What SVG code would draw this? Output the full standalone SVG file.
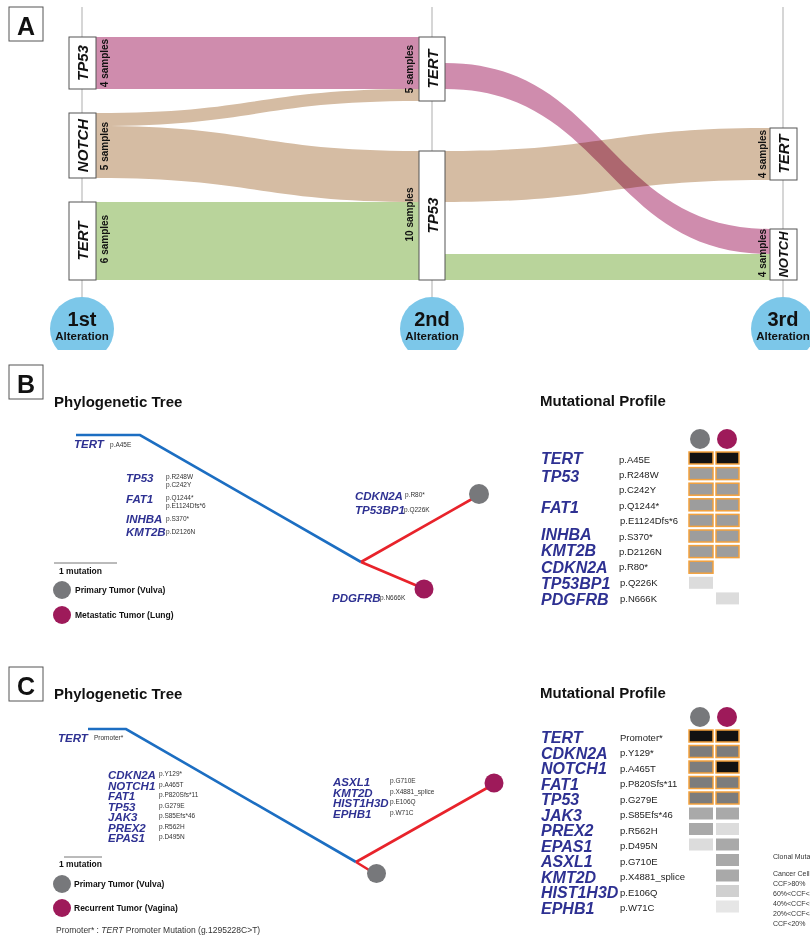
<svg xmlns="http://www.w3.org/2000/svg" width="810" height="937" viewBox="0 0 810 937">
<style>
text{font-family:"Liberation Sans",Arial,sans-serif;fill:#111}
.panel{font-size:25px;font-weight:bold;text-anchor:middle}
.pbox{fill:#fff;stroke:#555;stroke-width:1}
.axis{stroke:#c8c8c8;stroke-width:1.5}
.node{fill:#fff;stroke:#555;stroke-width:1}
.nl{font-size:15px;font-weight:bold;font-style:italic;text-anchor:middle;dominant-baseline:central}
.sl{font-size:10px;font-weight:bold;text-anchor:middle;dominant-baseline:central}
.pink{fill:#cf8cad}
.tan{fill:#d5bca3}
.green{fill:#b9d49b}
.alt{fill:#7cc7e9}
.big{font-size:20px;font-weight:bold;text-anchor:middle}
.small{font-size:11.5px;font-weight:bold;text-anchor:middle}
.title{font-size:15px;font-weight:bold}
.tg{font-size:11.5px;font-weight:bold;font-style:italic;fill:#2e3192}
.tm{font-size:6.5px;fill:#333}
.pg{font-size:16px;font-weight:bold;font-style:italic;fill:#2e3192}
.pm{font-size:9.5px;fill:#222}
.leg{font-size:8.5px;font-weight:bold}
.blue{stroke:#1c6ec2;stroke-width:2.6;fill:none}
.red{stroke:#e8232b;stroke-width:2.6;fill:none}
.prim{fill:#77787b}
.met{fill:#9e1a5a}
.bk{fill:#121212;stroke:#f3a13c;stroke-width:1.5}
.g1{fill:#9d9d9d;stroke:#f3a13c;stroke-width:1.5}
.g2{fill:#7c7c7c;stroke:#f3a13c;stroke-width:1.5}
.m1{fill:#a9a9a9}
.m2{fill:#d0d0d0}
.m3{fill:#dcdcdc}
.m4{fill:#e6e6e6}
.ccf{font-size:7px;fill:#333}
</style>
<defs>
<clipPath id="clipA"><rect x="0" y="0" width="810" height="350"/></clipPath>
</defs>

<!-- Panel A -->
<g id="panelA">
<rect class="pbox" x="9" y="7" width="34" height="34"/>
<text class="panel" x="26" y="35">A</text>
<line class="axis" x1="82" y1="7" x2="82" y2="300"/>
<line class="axis" x1="432" y1="7" x2="432" y2="300"/>
<line class="axis" x1="783" y1="7" x2="783" y2="300"/>
</g>

<g id="flows">
<rect class="pink" x="96" y="37" width="323" height="52"/>
<path class="tan" d="M96,113 C257,113 257,89 419,89 L419,101 C257,101 257,126 96,126 Z"/>
<path class="tan" d="M96,126 C257,126 257,151 419,151 L419,202 C257,202 257,178 96,178 Z"/>
<rect class="green" x="96" y="202" width="323" height="78"/>
<path class="tan" d="M445,151 C607,151 607,128 770,128 L770,180 C607,180 607,202 445,202 Z"/>
<rect class="green" x="445" y="254" width="325" height="26"/>
<path class="pink" style="mix-blend-mode:multiply" d="M445,63 C607,63 607,229 770,229 L770,254 C607,254 607,89 445,89 Z"/>
</g>

<g id="n1_TP53"><rect class="node" x="69" y="37" width="27" height="52"/><text class="nl" transform="translate(82.5,63) rotate(-90)">TP53</text><text class="sl" transform="translate(104,63) rotate(-90)">4 samples</text></g>
<g id="n1_NOTCH"><rect class="node" x="69" y="113" width="27" height="65"/><text class="nl" transform="translate(82.5,145.5) rotate(-90)">NOTCH</text><text class="sl" transform="translate(104,146) rotate(-90)">5 samples</text></g>
<g id="n1_TERT"><rect class="node" x="69" y="202" width="27" height="78"/><text class="nl" transform="translate(82.5,241) rotate(-90)">TERT</text><text class="sl" transform="translate(104,239) rotate(-90)">6 samples</text></g>
<g id="n2_TERT"><rect class="node" x="419" y="37" width="26" height="64"/><text class="nl" transform="translate(432,69) rotate(-90)">TERT</text><text class="sl" transform="translate(409,69) rotate(-90)">5 samples</text></g>
<g id="n2_TP53"><rect class="node" x="419" y="151" width="26" height="129"/><text class="nl" transform="translate(432,215.5) rotate(-90)">TP53</text><text class="sl" transform="translate(409,214.5) rotate(-90)">10 samples</text></g>
<g id="n3_TERT"><rect class="node" x="770" y="128" width="27" height="52"/><text class="nl" transform="translate(783.5,154) rotate(-90)">TERT</text><text class="sl" transform="translate(762,154) rotate(-90)">4 samples</text></g>
<g id="n3_NOTCH"><rect class="node" x="770" y="229" width="27" height="51"/><text class="nl" style="font-size:13px" transform="translate(783.5,254.5) rotate(-90)">NOTCH</text><text class="sl" transform="translate(762,253) rotate(-90)">4 samples</text></g>

<g id="alt1" clip-path="url(#clipA)"><circle class="alt" cx="82" cy="329" r="32"/><text class="big" x="82" y="326">1st</text><text class="small" x="82" y="340">Alteration</text></g>
<g id="alt2" clip-path="url(#clipA)"><circle class="alt" cx="432" cy="329" r="32"/><text class="big" x="432" y="326">2nd</text><text class="small" x="432" y="340">Alteration</text></g>
<g id="alt3" clip-path="url(#clipA)"><circle class="alt" cx="783" cy="329" r="32"/><text class="big" x="783" y="326">3rd</text><text class="small" x="783" y="340">Alteration</text></g>

<!-- Panel B -->
<g id="panelB">
<rect class="pbox" x="9" y="365" width="34" height="34"/>
<text class="panel" x="26" y="393">B</text>
<text class="title" x="54" y="407">Phylogenetic Tree</text>
<text class="title" x="540" y="406">Mutational Profile</text>
</g>
<g id="treeB">
<path class="blue" d="M76,435 L140,435 L361,562"/>
<path class="red" d="M361,562 L472,499 M361,562 L420,587"/>
<circle class="prim" cx="479" cy="494" r="10"/>
<circle class="met" cx="424" cy="589" r="9.5"/>
<text class="tg" x="74" y="448">TERT</text><text class="tm" x="110" y="447">p.A45E</text>
<text class="tg" x="126" y="482">TP53</text><text class="tm" x="166" y="479">p.R248W</text><text class="tm" x="166" y="487">p.C242Y</text>
<text class="tg" x="126" y="503">FAT1</text><text class="tm" x="166" y="500">p.Q1244*</text><text class="tm" x="166" y="508">p.E1124Dfs*6</text>
<text class="tg" x="126" y="523">INHBA</text><text class="tm" x="166" y="521">p.S370*</text>
<text class="tg" x="126" y="536">KMT2B</text><text class="tm" x="166" y="534">p.D2126N</text>
<text class="tg" x="355" y="500">CDKN2A</text><text class="tm" x="405" y="497">p.R80*</text>
<text class="tg" x="355" y="514">TP53BP1</text><text class="tm" x="404" y="512">p.Q226K</text>
<text class="tg" x="332" y="602">PDGFRB</text><text class="tm" x="380" y="600">p.N666K</text>
<line x1="54" y1="563" x2="117" y2="563" stroke="#777" stroke-width="1"/>
<text class="leg" x="59" y="574">1 mutation</text>
<circle class="prim" cx="62" cy="590" r="9"/><text class="leg" x="75" y="593">Primary Tumor (Vulva)</text>
<circle class="met" cx="62" cy="615" r="9"/><text class="leg" x="75" y="618">Metastatic Tumor (Lung)</text>
</g>
<g id="profileB">
<circle class="prim" cx="700" cy="439" r="10"/><circle class="met" cx="727" cy="439" r="10"/>
<rect class="bk" x="689" y="452" width="24" height="12"/><rect class="bk" x="716" y="452" width="23" height="12"/>
<rect class="g1" x="689" y="467.6" width="24" height="12"/><rect class="g1" x="716" y="467.6" width="23" height="12"/>
<rect class="g1" x="689" y="483.2" width="24" height="12"/><rect class="g1" x="716" y="483.2" width="23" height="12"/>
<rect class="g1" x="689" y="498.8" width="24" height="12"/><rect class="g1" x="716" y="498.8" width="23" height="12"/>
<rect class="g1" x="689" y="514.4" width="24" height="12"/><rect class="g1" x="716" y="514.4" width="23" height="12"/>
<rect class="g1" x="689" y="530" width="24" height="12"/><rect class="g1" x="716" y="530" width="23" height="12"/>
<rect class="g1" x="689" y="545.6" width="24" height="12"/><rect class="g1" x="716" y="545.6" width="23" height="12"/>
<rect class="g1" x="689" y="561.2" width="24" height="12"/>
<rect class="m3" x="689" y="576.8" width="24" height="12"/>
<rect class="m3" x="716" y="592.4" width="23" height="12"/>
<text class="pg" x="541" y="464">TERT</text>
<text class="pg" x="541" y="482">TP53</text>
<text class="pg" x="541" y="513">FAT1</text>
<text class="pg" x="541" y="540">INHBA</text>
<text class="pg" x="541" y="556">KMT2B</text>
<text class="pg" x="541" y="573">CDKN2A</text>
<text class="pg" x="541" y="589">TP53BP1</text>
<text class="pg" x="541" y="605">PDGFRB</text>
<text class="pm" x="619" y="462.5">p.A45E</text>
<text class="pm" x="619" y="477.5">p.R248W</text>
<text class="pm" x="619" y="493">p.C242Y</text>
<text class="pm" x="619" y="508.5">p.Q1244*</text>
<text class="pm" x="620" y="524">p.E1124Dfs*6</text>
<text class="pm" x="619" y="539.5">p.S370*</text>
<text class="pm" x="619" y="555">p.D2126N</text>
<text class="pm" x="619" y="570">p.R80*</text>
<text class="pm" x="620" y="585.5">p.Q226K</text>
<text class="pm" x="620" y="601.5">p.N666K</text>
</g>

<!-- Panel C -->
<g id="panelC">
<rect class="pbox" x="9" y="667" width="34" height="34"/>
<text class="panel" x="26" y="695">C</text>
<text class="title" x="54" y="699">Phylogenetic Tree</text>
<text class="title" x="540" y="698">Mutational Profile</text>
</g>
<g id="treeC">
<path class="blue" d="M88,729 L126,729 L356,862"/>
<path class="red" d="M356,862 L487,788 M356,862 L369,870"/>
<circle class="met" cx="494" cy="783" r="9.5"/>
<circle class="prim" cx="376.5" cy="873.5" r="9.5"/>
<text class="tg" x="58" y="742">TERT</text><text class="tm" x="94" y="740">Promoter*</text>
<text class="tg" x="108" y="779">CDKN2A</text><text class="tm" x="159" y="776">p.Y129*</text>
<text class="tg" x="108" y="789.5">NOTCH1</text><text class="tm" x="159" y="786.5">p.A465T</text>
<text class="tg" x="108" y="800">FAT1</text><text class="tm" x="159" y="797">p.P820Sfs*11</text>
<text class="tg" x="108" y="810.5">TP53</text><text class="tm" x="159" y="807.5">p.G279E</text>
<text class="tg" x="108" y="821">JAK3</text><text class="tm" x="159" y="818">p.S85Efs*46</text>
<text class="tg" x="108" y="831.5">PREX2</text><text class="tm" x="159" y="828.5">p.R562H</text>
<text class="tg" x="108" y="842">EPAS1</text><text class="tm" x="159" y="839">p.D495N</text>
<text class="tg" x="333" y="786">ASXL1</text><text class="tm" x="390" y="783">p.G710E</text>
<text class="tg" x="333" y="796.5">KMT2D</text><text class="tm" x="390" y="793.5">p.X4881_splice</text>
<text class="tg" x="333" y="807">HIST1H3D</text><text class="tm" x="390" y="804">p.E106Q</text>
<text class="tg" x="333" y="817.5">EPHB1</text><text class="tm" x="390" y="814.5">p.W71C</text>
<line x1="64" y1="857" x2="102" y2="857" stroke="#777" stroke-width="1"/>
<text class="leg" x="59" y="867">1 mutation</text>
<circle class="prim" cx="62" cy="884" r="9"/><text class="leg" x="74" y="887">Primary Tumor (Vulva)</text>
<circle class="met" cx="62" cy="908" r="9"/><text class="leg" x="74" y="911">Recurrent Tumor (Vagina)</text>
<text style="font-size:8.5px;fill:#333" x="56" y="933">Promoter* : <tspan font-style="italic">TERT</tspan> Promoter Mutation (g.1295228C&gt;T)</text>
</g>
<g id="profileC">
<circle class="prim" cx="700" cy="717" r="10"/><circle class="met" cx="727" cy="717" r="10"/>
<rect class="bk" x="689" y="730" width="24" height="12"/><rect class="bk" x="716" y="730" width="23" height="12"/>
<rect class="g2" x="689" y="745.5" width="24" height="12"/><rect class="g2" x="716" y="745.5" width="23" height="12"/>
<rect class="g2" x="689" y="761" width="24" height="12"/><rect class="bk" x="716" y="761" width="23" height="12"/>
<rect class="g2" x="689" y="776.5" width="24" height="12"/><rect class="g2" x="716" y="776.5" width="23" height="12"/>
<rect class="g2" x="689" y="792" width="24" height="12"/><rect class="g2" x="716" y="792" width="23" height="12"/>
<rect class="m1" x="689" y="807.5" width="24" height="12"/><rect class="m1" x="716" y="807.5" width="23" height="12"/>
<rect class="m1" x="689" y="823" width="24" height="12"/><rect class="m3" x="716" y="823" width="23" height="12"/>
<rect class="m3" x="689" y="838.5" width="24" height="12"/><rect class="m1" x="716" y="838.5" width="23" height="12"/>
<rect class="m1" x="716" y="854" width="23" height="12"/>
<rect class="m1" x="716" y="869.5" width="23" height="12"/>
<rect class="m2" x="716" y="885" width="23" height="12"/>
<rect class="m4" x="716" y="900.5" width="23" height="12"/>
<text class="pg" x="541" y="743">TERT</text>
<text class="pg" x="541" y="758.5">CDKN2A</text>
<text class="pg" x="541" y="774">NOTCH1</text>
<text class="pg" x="541" y="789.5">FAT1</text>
<text class="pg" x="541" y="805">TP53</text>
<text class="pg" x="541" y="820.5">JAK3</text>
<text class="pg" x="541" y="836">PREX2</text>
<text class="pg" x="541" y="851.5">EPAS1</text>
<text class="pg" x="541" y="867">ASXL1</text>
<text class="pg" x="541" y="882.5">KMT2D</text>
<text class="pg" x="541" y="898">HIST1H3D</text>
<text class="pg" x="541" y="913.5">EPHB1</text>
<text class="pm" x="620" y="740.5">Promoter*</text>
<text class="pm" x="620" y="756">p.Y129*</text>
<text class="pm" x="620" y="771.5">p.A465T</text>
<text class="pm" x="620" y="787">p.P820Sfs*11</text>
<text class="pm" x="620" y="802.5">p.G279E</text>
<text class="pm" x="620" y="818">p.S85Efs*46</text>
<text class="pm" x="620" y="833.5">p.R562H</text>
<text class="pm" x="620" y="849">p.D495N</text>
<text class="pm" x="620" y="864.5">p.G710E</text>
<text class="pm" x="620" y="880">p.X4881_splice</text>
<text class="pm" x="620" y="895.5">p.E106Q</text>
<text class="pm" x="620" y="911">p.W71C</text>
</g>
<g id="ccfLegend">
<text class="ccf" x="773" y="859">Clonal Mutation</text>
<text class="ccf" x="773" y="876">Cancer Cell Fraction</text>
<text class="ccf" x="773" y="886">CCF&gt;80%</text>
<text class="ccf" x="773" y="896">60%&lt;CCF&lt;80%</text>
<text class="ccf" x="773" y="906">40%&lt;CCF&lt;60%</text>
<text class="ccf" x="773" y="916">20%&lt;CCF&lt;40%</text>
<text class="ccf" x="773" y="926">CCF&lt;20%</text>
</g>
</svg>
